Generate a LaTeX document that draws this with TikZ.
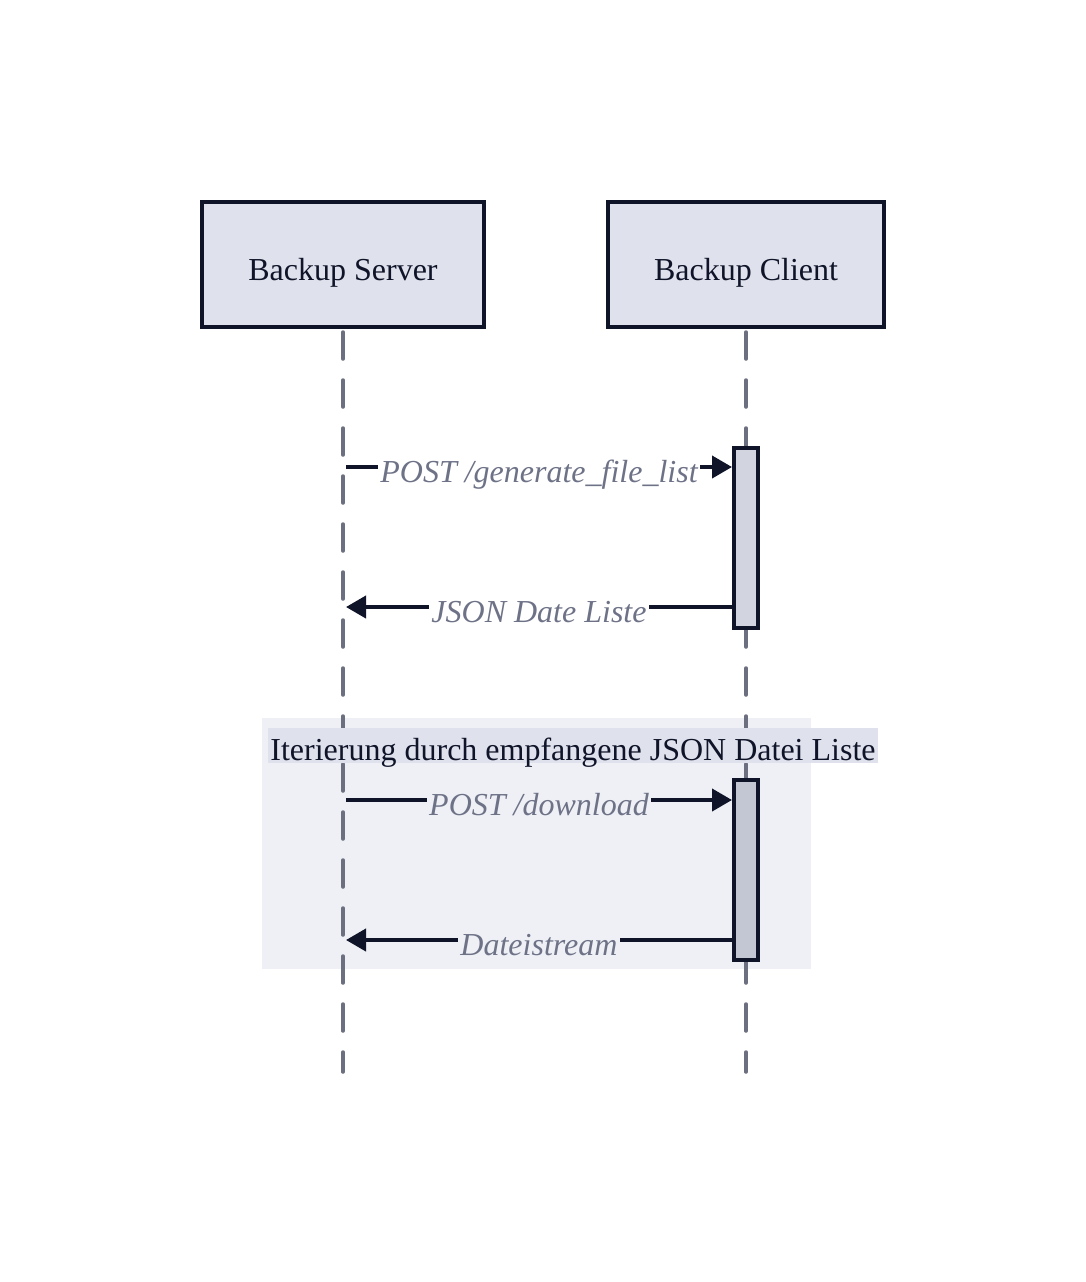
\documentclass[tikz,border=0pt]{standalone}
\usepackage{fontspec}
\setmainfont{Liberation Serif}
\usetikzlibrary{arrows.meta}
\definecolor{ink}{HTML}{0F1429}
\definecolor{boxfill}{HTML}{DFE1EC}
\definecolor{lifegray}{HTML}{6B6F80}
\definecolor{actfill}{HTML}{D2D4DF}
\definecolor{actfilltwo}{HTML}{C3C6D3}
\definecolor{loopfill}{HTML}{EEF0F5}
\definecolor{labgray}{HTML}{6E7287}
\begin{document}
\begin{tikzpicture}[x=0.5pt,y=-0.5pt,
  actor/.style={draw=ink, line width=2pt, fill=boxfill, minimum height=62.5pt, inner sep=0pt,
    font=\fontsize{16}{19}\selectfont, text=ink, text height=17pt, text depth=1.5pt},
  lifeline/.style={draw=lifegray, line width=1.75pt, line cap=round, dash pattern=on 13.5pt off 10.5pt},
  actbox/.style={draw=ink, line width=2pt, minimum width=12pt, minimum height=90pt, inner sep=0pt},
  msg/.style={draw=ink, line width=2pt, -{Triangle[length=10pt,width=11pt]}},
  msglabel/.style={font=\fontsize{16}{19}\selectfont\itshape, text=labgray, inner sep=1pt,
    text height=11pt, text depth=3.5pt, yshift=-3.75pt},
]
\useasboundingbox (0,0) rectangle (1086,1282);
\fill[white] (0,0) rectangle (1086,1282);

% loop background
\fill[loopfill] (262,718) rectangle (811,969);

% actors
\node[actor, minimum width=141pt] (srv) at (343,264.5) {Backup Server};
\node[actor, minimum width=138pt] (cli) at (746,264.5) {Backup Client};

% lifelines
\coordinate (srvend) at (343,1072);
\coordinate (cliend) at (746,1072);
\draw[lifeline] ([yshift=-1.5pt]srv.south) -- (srvend);
\draw[lifeline] ([yshift=-1.5pt]cli.south) -- (cliend);

% loop label
\node[fill=boxfill, minimum width=305pt, minimum height=17.5pt, inner sep=0pt,
  font=\fontsize{16}{19}\selectfont, text=ink, text height=16pt, text depth=1.2pt] (looplab) at (573,745.5)
  {Iterierung durch empfangene JSON Datei Liste};

% activations
\node[actbox, fill=actfill] (act1) at (746,538) {};
\node[actbox, fill=actfilltwo] (act2) at (746,870) {};

% messages
\coordinate (s1) at (346,467);
\coordinate (s2) at (346,607);
\coordinate (s3) at (346,800);
\coordinate (s4) at (346,940);
\draw[msg] (s1) -- node[msglabel, fill=white] (m1) {POST /generate\_file\_list} (s1 -| act1.west);
\draw[msg] (s2 -| act1.west) -- node[msglabel, fill=white] (m2) {JSON Date Liste} (s2);
\draw[msg] (s3) -- node[msglabel, fill=loopfill] (m3) {POST /download} (s3 -| act2.west);
\draw[msg] (s4 -| act2.west) -- node[msglabel, fill=loopfill] (m4) {Dateistream} (s4);
\end{tikzpicture}
\end{document}
